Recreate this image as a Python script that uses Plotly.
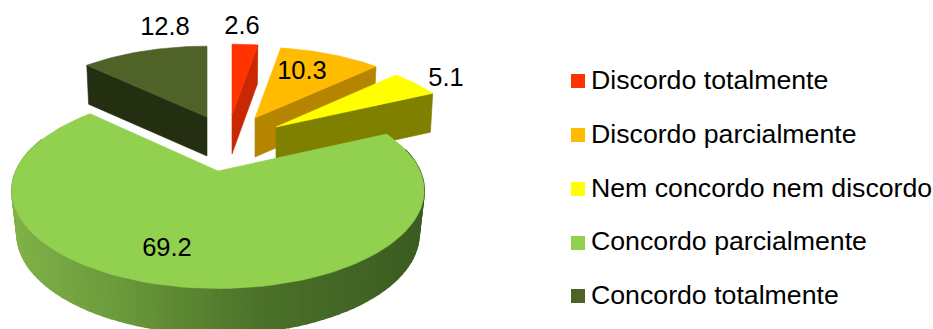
import numpy as np
import plotly.graph_objects as go

categories = ["Discordo totalmente", "Discordo parcialmente", "Nem concordo nem discordo",
              "Concordo parcialmente", "Concordo totalmente"]
values = [2.6, 10.3, 5.1, 69.2, 12.8]
value_labels = ["2.6", "10.3", "5.1", "69.2", "12.8"]
top_colors = ["#FF3300", "#FFBB00", "#FFFF00", "#92D050", "#4F6228"]
side_colors = ["#C92800", "#B58500", "#808000", None, "#232F10"]

# drawing geometry (pixel space of the hidden axes)
PERSP = 0.2
DEPTH = 39
GEOM = {
    0: dict(apex=(232, 115), a=190, b=85),
    1: dict(apex=(255, 118), a=190, b=85),
    2: dict(apex=(276, 127), a=188, b=86),
    3: dict(apex=(218, 171), a=202, b=94),
    4: dict(apex=(207, 117), a=190, b=85),
}
LABEL_POS = [(242, 28), (302, 73), (446, 80), (167, 250), (165, 29)]
LEGEND_X, TEXT_X = 578, 591
LEGEND_Y = [81, 135, 189, 243, 296]
TEXT_Y = [82, 136, 190, 243, 297]
FONT = "Liberation Sans, Arial, sans-serif"

total = sum(values)
edges = np.concatenate([[0], np.cumsum(values)]) / total * 2 * np.pi


def project(g, theta, depth=0.0, xscale=1.0, bscale=1.0):
    X, Y = np.sin(theta), np.cos(theta)
    s = 1 / (1 + PERSP * Y)
    ax, ay = g["apex"]
    return ax + xscale * g["a"] * X * s, ay + depth - bscale * g["b"] * Y * s


def poly(xs, ys, color, lw=0.6):
    return go.Scatter(x=list(xs), y=list(ys), mode="lines", fill="toself", fillcolor=color,
                      line=dict(color=color, width=lw), hoverinfo="skip", showlegend=False)


def lerp_color(stops, t):
    pts = [p for p, _ in stops]
    rgb = [np.interp(t, pts, [c[i] for _, c in stops]) for i in range(3)]
    return "rgb(%d,%d,%d)" % tuple(int(v) for v in rgb)


GREEN_SIDE = [(0.0, (128, 178, 72)), (0.25, (108, 155, 60)), (0.6, (76, 114, 42)), (1.0, (60, 92, 34))]

fig = go.Figure()


def flat_slice(i):
    g = GEOM[i]
    th = np.linspace(edges[i], edges[i + 1], 40)
    ax, ay = g["apex"]
    # cut face that looks at the viewer
    cut = edges[i] if i == 4 else edges[i + 1]
    ox, oy = project(g, cut)
    lx, ly = project(g, cut, DEPTH, 0.985)
    fig.add_trace(poly([ax, ox, lx, ax, ax], [ay, oy, ly, ay + DEPTH, ay], side_colors[i]))
    x, y = project(g, th)
    fig.add_trace(poly(np.r_[ax, x, ax], np.r_[ay, y, ay], top_colors[i]))


for i in [4, 0, 1, 2]:
    flat_slice(i)

# big green slice: outer wall in shaded strips, then its top face
g = GEOM[3]
th = np.linspace(edges[3], edges[4], 110)
wall = th[(th > np.pi * 0.42) & (th < np.pi * 1.62)]
for t0, t1 in zip(wall[:-1], wall[1:]):
    xa, ya = project(g, np.array([t0, t1]))
    xb, yb = project(g, np.array([t1, t0]), 43, 0.975, 1.02)
    shade = lerp_color(GREEN_SIDE, (0.5 * (xa[0] + xa[1]) - 11) / 412)
    fig.add_trace(poly(np.r_[xa, xb, xa[0]], np.r_[ya, yb, ya[0]], shade, lw=1.6))
x, y = project(g, th)
ax, ay = g["apex"]
fig.add_trace(poly(np.r_[ax, x, ax], np.r_[ay, y, ay], top_colors[3]))

# value labels
fig.add_trace(go.Scatter(x=[p[0] for p in LABEL_POS], y=[p[1] for p in LABEL_POS], mode="text",
                         text=value_labels, textposition="middle center",
                         textfont=dict(family=FONT, size=25.5, color="#000000"),
                         hoverinfo="skip", showlegend=False))

# legend
for name, color, my, ty in zip(categories, top_colors, LEGEND_Y, TEXT_Y):
    fig.add_trace(go.Scatter(x=[LEGEND_X], y=[my], mode="markers",
                             marker=dict(symbol="square", size=14, color=color, line=dict(width=0)),
                             name=name, showlegend=False))
    fig.add_trace(go.Scatter(x=[TEXT_X], y=[ty], mode="text", text=[name], textposition="middle right",
                             textfont=dict(family=FONT, size=26.7, color="#000000"),
                             hoverinfo="skip", showlegend=False))

fig.update_layout(width=933, height=329, margin=dict(l=0, r=0, t=0, b=0),
                  paper_bgcolor="white", plot_bgcolor="white", showlegend=False,
                  xaxis=dict(range=[0, 933], visible=False, fixedrange=True),
                  yaxis=dict(range=[329, 0], visible=False, fixedrange=True))
fig.write_html("out.html", config={"displayModeBar": False},
               post_script="document.body.style.margin='0';document.documentElement.style.overflow='hidden';")
